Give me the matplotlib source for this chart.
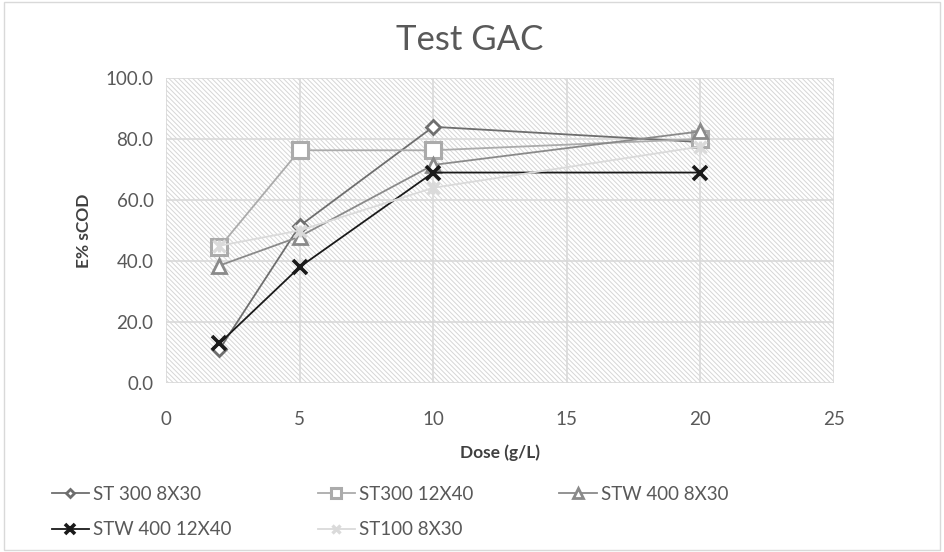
import numpy as np
import matplotlib.pyplot as plt
from matplotlib.patches import Rectangle

plt.rcParams['font.family'] = ['Lato', 'DejaVu Sans']
plt.rcParams['hatch.linewidth'] = 0.7

dose = [2, 5, 10, 20]
series_names = ['ST 300 8X30', 'ST300 12X40', 'STW 400 8X30', 'STW 400 12X40', 'ST100 8X30']
st300_8x30 = [11.0, 51.5, 84.0, 79.0]
st300_12x40 = [44.5, 76.3, 76.3, 80.0]
stw400_8x30 = [38.5, 48.0, 71.5, 82.5]
stw400_12x40 = [13.0, 38.0, 69.0, 69.0]
st100_8x30 = [45.0, 50.0, 64.0, 77.5]
y_ticks = [0, 20, 40, 60, 80, 100]
x_ticks = [0, 5, 10, 15, 20, 25]

styles = [
    dict(color='#6e6e6e', marker='D', ms=7, mfc='white', mew=2.0),
    dict(color='#ababab', marker='s', ms=11, mfc='white', mew=2.2),
    dict(color='#8a8a8a', marker='^', ms=10, mfc='white', mew=2.0),
    dict(color='#1a1a1a', marker='x', ms=10, mew=2.6),
    dict(color='#dadada', marker='x', ms=9, mew=2.4),
]
values = [st300_8x30, st300_12x40, stw400_8x30, stw400_12x40, st100_8x30]

fig = plt.figure(figsize=(9.44, 5.52), dpi=100)
ax = fig.add_axes([166 / 944, 1 - 383 / 552, 668 / 944, 305 / 552])

ax.add_patch(Rectangle((0, 0), 1, 1, transform=ax.transAxes, facecolor='white',
                       edgecolor='#d6d6d6', hatch='\\' * 7, lw=0, zorder=0))
ax.grid(True, color='#d9d9d9', lw=1.2, zorder=1)
ax.set_axisbelow(True)

lines = []
for name, vals, st in zip(series_names, values, styles):
    ln, = ax.plot(dose, vals, lw=1.3, label=name, zorder=3, **st)
    lines.append(ln)
# star-ish marker for ST100: overlay a bar to form an asterisk
ax.plot(dose, st100_8x30, ls='none', marker='|', ms=9, mew=2.4, color='#dadada', zorder=3)

ax.set_xlim(0, 25)
ax.set_ylim(0, 100)
ax.set_xticks(x_ticks)
ax.set_yticks(y_ticks)
ax.set_yticklabels([f'{v:.1f}' for v in y_ticks])
ax.tick_params(axis='y', length=0, labelsize=13.5, colors='#595959', pad=9)
ax.tick_params(axis='x', length=0, labelsize=13.5, colors='#595959', pad=20)
for s in ax.spines.values():
    s.set_visible(False)

ax.set_xlabel('Dose (g/L)', fontsize=12.5, fontweight='bold', color='#404040', labelpad=12)
ax.set_ylabel('E% sCOD', fontsize=12.5, fontweight='bold', color='#404040', labelpad=10)
fig.text(470 / 944, 1 - 40 / 552, 'Test GAC', ha='center', va='center', fontsize=25, color='#595959')

order = [0, 3, 1, 4, 2]
fig.legend(handles=[lines[i] for i in order], loc='upper left',
           bbox_to_anchor=(44 / 944, 1 - 478 / 552),
           ncol=3, frameon=False, fontsize=13.5, handlelength=2.0, columnspacing=4.6,
           labelcolor='#595959', handletextpad=0.2, markerscale=0.65, borderaxespad=0,
           labelspacing=1.0)

fig.patches.append(Rectangle((0.004, 0.004), 0.992, 0.992, transform=fig.transFigure,
                             fill=False, edgecolor='#d9d9d9', lw=1))

fig.savefig('out.png', dpi=100)
